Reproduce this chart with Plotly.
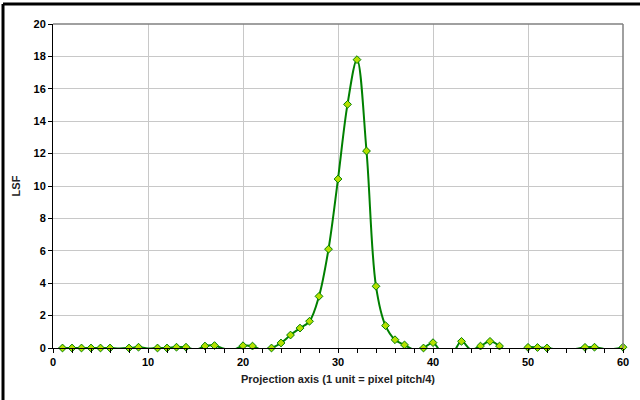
import plotly.graph_objects as go

x_vals = list(range(1, 61))
lsf = [0.0, 0.0, 0.0, 0.0, 0.0, 0.0, -0.03, 0.0, 0.05, -0.03,
       0.0, 0.0, 0.05, 0.05, -0.1, 0.12, 0.15, -0.05, -0.1, 0.14,
       0.12, -0.12, 0.0, 0.31, 0.8, 1.23, 1.65, 3.19, 6.1, 10.43,
       15.04, 17.8, 12.16, 3.81, 1.38, 0.51, 0.19, -0.1, 0.0, 0.33,
       -0.35, -0.35, 0.41, -0.1, 0.12, 0.41, 0.12, -0.35, -0.25, 0.04,
       0.03, 0.0, -0.08, -0.12, -0.06, 0.04, 0.05, -0.06, -0.06, 0.05]

x_title = "Projection axis (1 unit = pixel pitch/4)"
y_title = "LSF"

# points outside the axis range (below 0) are not drawn as markers
vis_x = [x for x, v in zip(x_vals, lsf) if v >= 0]
vis_y = [v for v in lsf if v >= 0]

fig = go.Figure()
fig.add_trace(go.Scatter(
    x=x_vals, y=lsf, mode="lines",
    line=dict(color="#008000", width=2, shape="spline", smoothing=1),
    showlegend=False, hoverinfo="skip"))
fig.add_trace(go.Scatter(
    x=vis_x, y=vis_y, mode="markers", cliponaxis=False,
    marker=dict(symbol="diamond", size=6, color="#B5E000",
                line=dict(color="#008000", width=1)),
    showlegend=False))

tfont = dict(family="Arial, Liberation Sans, sans-serif", size=11, color="black", weight="bold")

fig.update_layout(
    width=640, height=400,
    margin=dict(l=53, r=17, t=24, b=52),
    paper_bgcolor="white", plot_bgcolor="white",
    font=dict(family="Arial, Liberation Sans, sans-serif", size=10, color="black"),
    xaxis=dict(range=[0, 60], dtick=10, tick0=0, showgrid=True,
               gridcolor="#C8C8C8", gridwidth=1, zeroline=False,
               showline=True, linecolor="black", linewidth=1,
               ticks="outside", ticklen=4, tickcolor="black",
               minor=dict(dtick=2, ticks="outside", ticklen=4, tickcolor="black", showgrid=False),
               tickfont=tfont,
               title=dict(text="<b>" + x_title + "</b>", standoff=8,
                          font=dict(family="Arial, Liberation Sans, sans-serif", size=11, color="#222"))),
    yaxis=dict(range=[0, 20], dtick=2, showgrid=True,
               gridcolor="#C8C8C8", gridwidth=1, zeroline=False,
               showline=True, linecolor="black", linewidth=1,
               ticks="outside", ticklen=4, tickcolor="black",
               tickfont=tfont,
               title=dict(text="<b>" + y_title + "</b>", standoff=10,
                          font=dict(family="Arial, Liberation Sans, sans-serif", size=11, color="#222"))),
    shapes=[
        dict(type="line", xref="paper", yref="paper", x0=0, x1=1, y0=1, y1=1,
             line=dict(color="#808080", width=1.5)),
        dict(type="line", xref="paper", yref="paper", x0=1, x1=1, y0=0, y1=1,
             line=dict(color="#808080", width=1.5)),
        dict(type="line", xref="paper", yref="paper", x0=-0.0877, x1=1.03, y0=1.0617, y1=1.0617,
             line=dict(color="black", width=3)),
        dict(type="line", xref="paper", yref="paper", x0=-0.0877, x1=-0.0877, y0=-0.17, y1=1.0617,
             line=dict(color="black", width=3)),
    ],
)

fig.write_html("out.html")
